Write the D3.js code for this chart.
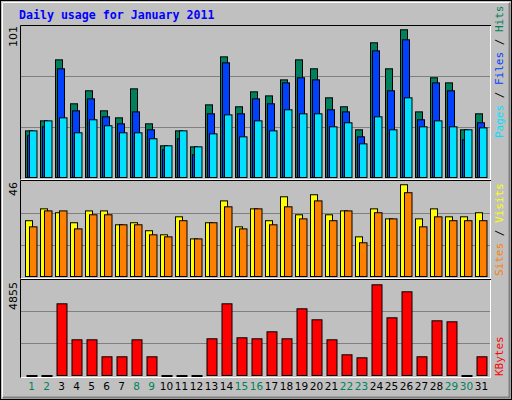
<!DOCTYPE html>
<html><head><meta charset="utf-8">
<script src="https://cdn.jsdelivr.net/npm/d3@7/dist/d3.min.js"></script>
<style>body{margin:0;background:#fff}svg{display:block}</style>
</head><body>
<svg id="c" width="512" height="400"></svg>
<script>
const days = d3.range(1, 32);
const weekendDays = [1,2,8,9,15,16,22,23,29,30];
const hits  = [31.2,37.9,78.7,49.3,58,44.6,39.9,59.3,35.9,21.2,31.2,20.5,48.6,80.7,47.3,57.3,54.6,65.3,78.7,72.7,53.3,47.3,31.9,90.1,72.7,98.8,43.9,66.7,63.3,31.9,42.6];
const files = [27.9,33.9,72.7,44.6,52.6,40.6,35.9,43.9,31.9,18.5,25.9,15.2,42.6,76.7,42.6,52.6,49.3,63.3,66.7,65.3,45.3,43.9,27.2,84.7,58,92.1,38.6,63.3,58,25.2,36.6];
const pages = [31.2,37.9,39.9,29.9,38.6,34.6,29.9,29.9,25.9,21.2,31.2,20.5,29.2,41.9,27.2,37.9,31.2,45.3,42.6,42.6,33.9,36.6,22.5,40.6,31.9,53.3,33.9,37.9,33.9,31.9,33.2];
const visits = [27.3,33.1,31.2,26.3,32.1,32.1,25.3,26.3,22.4,20.4,29.2,18.4,26.3,37,24.3,33.1,27.3,39,30.2,40,30.2,32.1,19.4,33.1,28.2,44.9,28.2,33.1,29.2,29.2,31.2];
const sites  = [24.3,32.1,32.1,23.3,30.2,30.2,25.3,25.3,20.4,19.4,27.3,18.4,26.3,34.1,23.3,33.1,25.3,34.1,28.2,37,27.3,32.1,16.5,31.2,28.2,41,24.3,29.2,27.3,27.3,27.3];
const kbytes = [0,0,3626,1805,1805,946,946,1805,946,0,0,0,1856,3626,1907,1856,2210,1856,3373,2817,1805,1047,895,4587,2918,4233,946,2766,2716,0,946];
const maxHits = 101, maxVisits = 46, maxKB = 4855;

const svg = d3.select("#c");
// frame
svg.append("rect").attr("x",0.5).attr("y",0.5).attr("width",511).attr("height",399).attr("fill","#c0c0c0").attr("stroke","#000");
svg.append("path").attr("d","M2.5,397V2.5H509").attr("fill","none").attr("stroke","#fff");
svg.append("path").attr("d","M3,397.5H509.5V3").attr("fill","none").attr("stroke","#808080").attr("stroke-width",2);

svg.append("text").attr("x",19).attr("y",19).text("Daily usage for January 2011")
  .attr("font-family","DejaVu Sans Mono").attr("font-weight","bold").attr("font-size","11.6px").attr("fill","#0000ff");

const x = d3.scaleLinear().domain([1,31]).range([25,475]);
const yT = d3.scaleLinear().domain([0,maxHits]).range([177,26]);
const yM = d3.scaleLinear().domain([0,maxVisits]).range([276,182]);
const yB = d3.scaleLinear().domain([0,maxKB]).range([375,279]);

function panel(y0,y1,scale,max){
  svg.append("rect").attr("x",20).attr("y",y0).attr("width",471).attr("height",y1-y0).attr("fill","#c0c0c0");
  [1/3,2/3].forEach(f=>{
    const yy = Math.round(scale(max*f))+0.5;
    svg.append("line").attr("x1",21).attr("x2",490).attr("y1",yy).attr("y2",yy).attr("stroke","#808080");
  });
  svg.append("path").attr("d",`M20.5,${y1+0.5}V${y0+0.5}H491`).attr("fill","none").attr("stroke","#000");
  svg.append("path").attr("d",`M21,${y1+0.5}H490.5V${y0+1}`).attr("fill","none").attr("stroke","#fff");
}
panel(25,179,yT,maxHits);
panel(180,278,yM,maxVisits);
panel(279,377,yB,maxKB);

function bars(data,scale,off,w,color){
  svg.append("g").selectAll("rect").data(data).join("rect")
    .attr("x",(d,i)=>x(days[i])+off+0.5).attr("width",w)
    .attr("y",d=>scale(d)+0.5).attr("height",d=>Math.max(scale(0)-scale(d),1))
    .attr("fill",d=>d>0?color:"#000").attr("stroke","#000");
}
bars(hits,yT,0,7,"#00805c");
bars(files,yT,2,7,"#0040ff");
bars(pages,yT,4,7.5,"#00e0ff");
bars(visits,yM,0,7,"#ffff00");
bars(sites,yM,4,7.5,"#ff8000");
bars(kbytes,yB,1.5,10,"#ff0000");

// left max labels
function lbl(t,xx,yy){
  svg.append("text").attr("transform",`translate(${xx},${yy}) rotate(-90)`).attr("text-anchor","end")
    .attr("font-family","DejaVu Sans").attr("font-size","11px").attr("fill","#000").text(t);
}
lbl(maxHits,17,26); lbl(maxVisits,17,182); lbl(maxKB,17,282);

// right legends
function legend(parts,yy){
  const t = svg.append("text").attr("transform",`translate(503,${yy}) rotate(-90)`)
    .attr("font-family","DejaVu Sans Mono").attr("font-size","11px");
  parts.forEach(p=>t.append("tspan").attr("fill",p[1]).text(p[0]));
}
legend([["Pages","#00e0ff"],[" / ","#000"],["Files","#0040ff"],[" / ","#000"],["Hits","#00805c"]],138);
legend([["Sites","#ff8000"],[" / ","#000"],["Visits","#ffff00"]],276);
legend([["KBytes","#ff0000"]],376);

// x axis
const ax = svg.append("g").attr("transform","translate(6,383)")
  .call(d3.axisBottom(x).tickValues(days).tickSize(0).tickPadding(0).tickFormat(d3.format("d")));
ax.select(".domain").remove();
ax.selectAll("text").attr("font-family","DejaVu Sans").attr("font-size","10.5px")
  .attr("fill",d=>weekendDays.includes(d)?"#00805c":"#000");
</script>
</body></html>
